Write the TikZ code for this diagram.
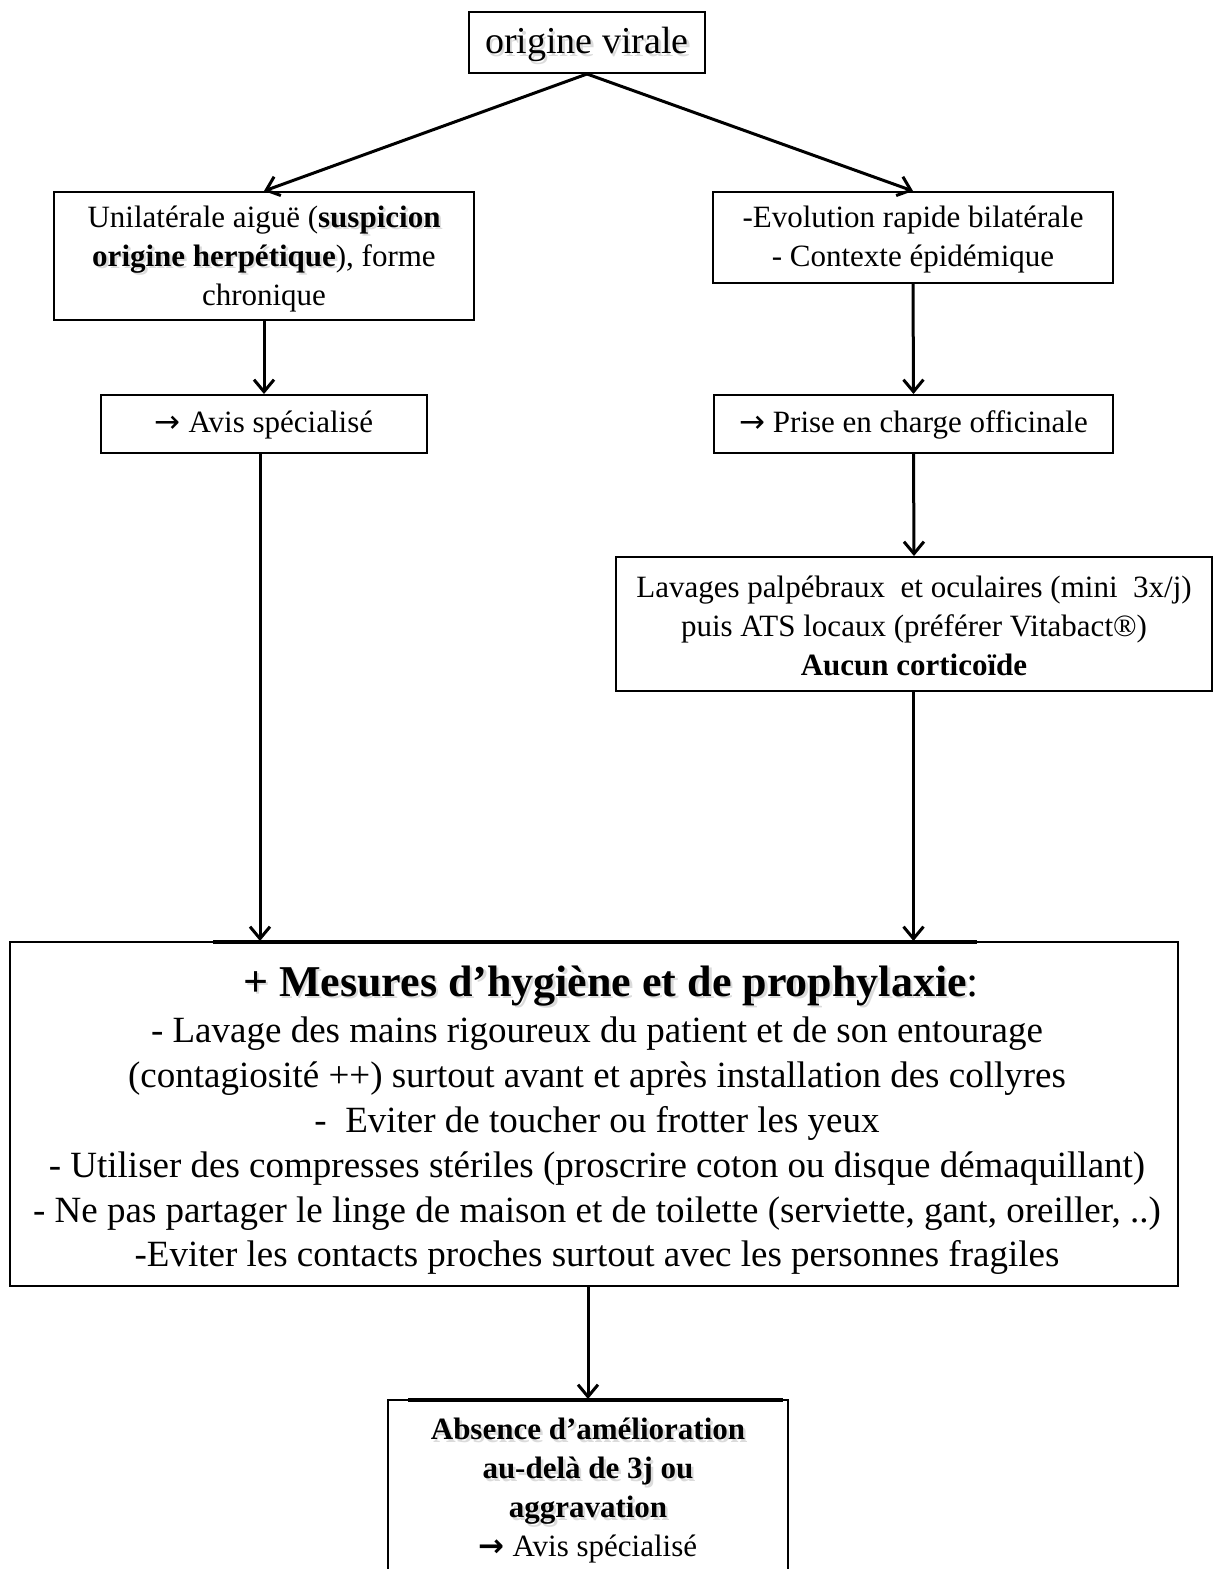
\documentclass[tikz,border=0pt]{standalone}
\usepackage{fontspec}
\setmainfont{Liberation Serif}
\newfontfamily\arrowfont{DejaVu Sans}
\usetikzlibrary{arrows.meta}
\newcommand\shd[1]{\makebox[0pt][l]{\raisebox{-2.5pt}{\hspace{2.5pt}\textcolor{black!14}{#1}}}#1}
\newcommand\rarr{{\arrowfont\bfseries →}}
\begin{document}
\begin{tikzpicture}[x=1pt,y=-1pt,
 box/.style={draw,line width=2pt,inner sep=0pt,align=center,anchor=center},
 txt/.style={inner sep=0pt,align=center,anchor=center},
 arr/.style={line width=3pt,-{Straight Barb[length=12pt,width=20pt,line width=3pt]}},
 mid/.style={font=\fontsize{31}{39}\selectfont}
]
\clip (0,0) rectangle (1213,1569);
\fill[white] (0,0) rectangle (1213,1569);

\node[box,minimum width=236pt,minimum height=61pt] (top) at (587,42.5) {};
\node[txt,font=\fontsize{38}{44}\selectfont] (toptxt) at (587,46) {\shd{origine virale}};

\node[box,minimum width=420pt,minimum height=128pt] (unil) at (264,256) {};
\node[txt,mid] (uniltxt) at (264,259)
 {Unilatérale aiguë (\shd{\textbf{suspicion}}\\\shd{\textbf{origine herpétique}}), forme\\chronique};

\node[box,minimum width=400pt,minimum height=91pt] (evol) at (913,237.5) {};
\node[txt,mid] (evoltxt) at (913,239.5)
 {-Evolution rapide bilatérale\\- Contexte épidémique};

\node[box,minimum width=326pt,minimum height=58pt] (avis) at (264,424) {};
\node[txt,mid] (avistxt) at (264,425) {{\arrowfont →} Avis spécialisé};

\node[box,minimum width=399pt,minimum height=58pt] (prise) at (913.5,424) {};
\node[txt,mid] (prisetxt) at (913.5,425) {{\arrowfont →} Prise en charge officinale};

\node[box,minimum width=596pt,minimum height=134pt] (lav) at (914,624) {};
\node[txt,mid] (lavtxt) at (914,626)
 {Lavages palpébraux\ \ et oculaires\ (mini\ \ 3x/j)\\puis ATS locaux (préférer\ Vitabact®)\\\textbf{Aucun corticoïde}};

\node[box,minimum width=1168pt,minimum height=344pt] (big) at (594,1114) {};
\draw[line width=3.5pt] (213,942) -- (977,942);
\node[txt,font=\fontsize{44}{50}\selectfont] (bigtitle) at (611,987)
 {\shd{\textbf{+ Mesures d’hygiène et de prophylaxie}}:};
\node[txt,font=\fontsize{37}{44.8}\selectfont] (bigbody) at (597,1146)
 {- Lavage des mains rigoureux du patient et de son entourage\\
 (contagiosité ++) surtout avant et après installation des collyres\\
 -\ \ Eviter de toucher ou frotter les yeux\\
 - Utiliser des compresses stériles (proscrire coton ou disque démaquillant)\\
 - Ne pas partager le linge de maison et de toilette (serviette, gant, oreiller, ..)\\
 -Eviter les contacts proches surtout avec les personnes fragiles};

\node[box,minimum width=400pt,minimum height=190pt] (abs) at (588,1495) {};
\draw[line width=3.5pt] (408,1400) -- (783,1400);
\node[txt,font=\fontsize{31}{39}\selectfont] (abstxt) at (588,1491)
 {\shd{\textbf{Absence d’amélioration}}\\\shd{\textbf{au-delà de 3j ou}}\\\shd{\textbf{aggravation}}\\\rarr\ Avis spécialisé};

\draw[arr] (top.south) -- (unil.north);
\draw[arr] (top.south) -- (evol.north);
\draw[arr] (unil.south) -- (avis.north);
\draw[arr] (evol.south) -- (prise.north);
\draw[arr] (prise.south) -- (lav.north);
\draw[arr] ([xshift=-4pt]avis.south) -- ([xshift=-4pt]avis.south |- big.north);
\draw[arr] (lav.south -| prise.south) -- (prise.south |- big.north);
\draw[arr] (abs.north |- big.south) -- (abs.north);
\end{tikzpicture}
\end{document}
